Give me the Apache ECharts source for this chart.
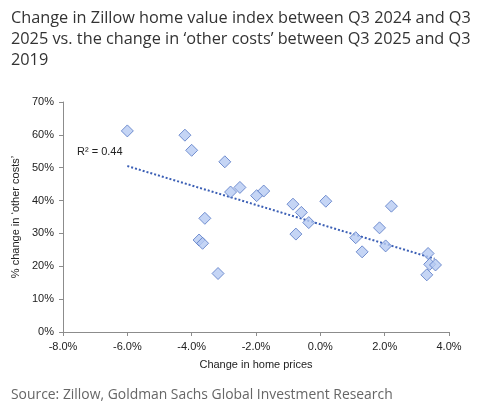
<!DOCTYPE html>
<html>
<head>
<meta charset="utf-8">
<script src="https://cdn.jsdelivr.net/npm/echarts@6/dist/echarts.min.js"></script>
<style>
  html, body { margin: 0; padding: 0; background: #fff; }
  #chart { width: 490px; height: 406px; }
</style>
</head>
<body>
<div id="chart"></div>
<script>
// change in home prices (%), change in 'other costs' (%)
const homePriceChange = [-6.0, -4.21, -4.0, -2.97, -2.79, -2.5, -1.98, -1.76, -0.85, -0.59, 0.17, 2.21,
  -0.36, -0.76, 1.1, 1.3, 1.84, 2.03, 3.35, 3.4, 3.58, 3.31, -3.59, -3.77, -3.66, -3.18];
const otherCostChange = [61.2, 59.9, 55.3, 51.8, 42.6, 44.0, 41.5, 42.9, 38.9, 36.4, 39.8, 38.3,
  33.3, 29.8, 28.7, 24.4, 31.7, 26.2, 23.9, 20.6, 20.4, 17.4, 34.6, 28.0, 27.0, 17.8];
// linear trend endpoints as drawn in the source chart
const trendX = [-6.0, 3.55];
const trendY = [50.5, 22.3];

const points = homePriceChange.map((x, i) => [x, otherCostChange[i]]);
const trend = trendX.map((x, i) => [x, trendY[i]]);

const chart = echarts.init(document.getElementById("chart"));
const labelFont = "Liberation Sans, Arial, sans-serif";

chart.setOption({
  animation: false,
  title: [
    {
      text: "Change in Zillow home value index between Q3 2024 and Q3\n2025 vs. the change in \u2018other costs\u2019 between Q3 2025 and Q3\n2019",
      left: 6, top: 3,
      textStyle: { fontFamily: "Open Sans", fontSize: 16.3, fontWeight: "normal", color: "#333", lineHeight: 21 }
    },
    {
      text: "Source: Zillow, Goldman Sachs Global Investment Research",
      left: 6, top: 383,
      textStyle: { fontFamily: "Open Sans", fontSize: 13.9, fontWeight: "normal", color: "#666" }
    }
  ],
  grid: { left: 63, right: 41, top: 102, bottom: 74 },
  xAxis: {
    type: "value", min: -8, max: 4, interval: 2,
    name: "Change in home prices", nameLocation: "middle", nameGap: 27,
    nameTextStyle: { fontFamily: labelFont, fontSize: 11, color: "#222" },
    axisLine: { show: true, onZero: false, lineStyle: { color: "#8c8c8c" } },
    axisTick: { show: true, length: 4, lineStyle: { color: "#8c8c8c" } },
    axisLabel: { fontFamily: labelFont, fontSize: 11, color: "#222", margin: 9, formatter: (v) => v.toFixed(1) + "%" },
    splitLine: { show: false }
  },
  yAxis: {
    type: "value", min: 0, max: 70, interval: 10,
    name: "% change in \u2018other costs\u2019", nameLocation: "middle", nameGap: 42,
    nameTextStyle: { fontFamily: labelFont, fontSize: 11, color: "#222" },
    axisLine: { show: true, onZero: false, lineStyle: { color: "#8c8c8c" } },
    axisTick: { show: true, length: 4, lineStyle: { color: "#8c8c8c" } },
    axisLabel: { fontFamily: labelFont, fontSize: 11, color: "#222", margin: 9, formatter: "{value}%" },
    splitLine: { show: false }
  },
  graphic: [
    {
      type: "text", left: 77, top: 146,
      style: { text: "R\u00b2 = 0.44", fontFamily: labelFont, fontSize: 11, fill: "#222" }
    }
  ],
  series: [
    {
      type: "line",
      data: trend,
      symbol: "none",
      lineStyle: { color: "#3b5fb5", width: 2, type: [2, 2] },
      z: 1
    },
    {
      type: "scatter",
      data: points,
      symbol: "diamond",
      symbolSize: [12, 12],
      itemStyle: { color: "#b7cbf3", borderColor: "#5577c4", borderWidth: 1 },
      z: 2
    }
  ]
});
</script>
</body>
</html>
